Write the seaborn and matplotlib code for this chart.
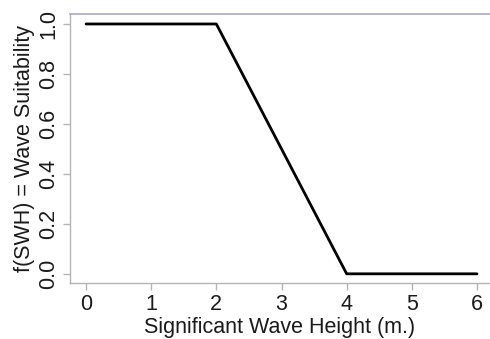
import seaborn as sns
import matplotlib.pyplot as plt
import pandas as pd

# piecewise suitability function
swh = [0, 2, 4, 6]
suitability = [1.0, 1.0, 0.0, 0.0]
x_ticks = [0, 1, 2, 3, 4, 5, 6]
y_ticks = [0.0, 0.2, 0.4, 0.6, 0.8, 1.0]

df = pd.DataFrame({'swh': swh, 'f': suitability})

sns.set_style("white")
plt.rcParams['font.family'] = ['Liberation Sans', 'DejaVu Sans']

fig = plt.figure(figsize=(4.9, 3.39), dpi=100)
ax = fig.add_axes([0.143, 0.165, 0.857, 0.793])

sns.lineplot(data=df, x='swh', y='f', color='black', linewidth=2.0, ax=ax)

ax.set_xlim(-0.245, 6.2)
ax.set_ylim(-0.037, 1.039)
ax.set_xticks(x_ticks)
ax.set_yticks(y_ticks)
ax.set_xticklabels([str(t) for t in x_ticks])
ax.set_yticklabels(['%.1f' % t for t in y_ticks], rotation=90, va='center')

for side in ['left', 'bottom']:
    ax.spines[side].set_color('#b4b4b4')
    ax.spines[side].set_linewidth(1.0)
ax.spines['top'].set_color('#a8a8c8')
ax.spines['top'].set_linewidth(1.2)
ax.spines['right'].set_visible(False)

ax.tick_params(axis='both', which='both', direction='out', length=5, width=1,
               color='#b4b4b4', labelsize=15.5, labelcolor='#1a1a1a', pad=3,
               left=True, bottom=True)

ax.set_xlabel('Significant Wave Height (m.)', fontsize=15.5, color='#1a1a1a', labelpad=1)
ax.set_ylabel('f(SWH) = Wave Suitability', fontsize=15.5, color='#1a1a1a', labelpad=2)

fig.savefig('out.png', dpi=100)
